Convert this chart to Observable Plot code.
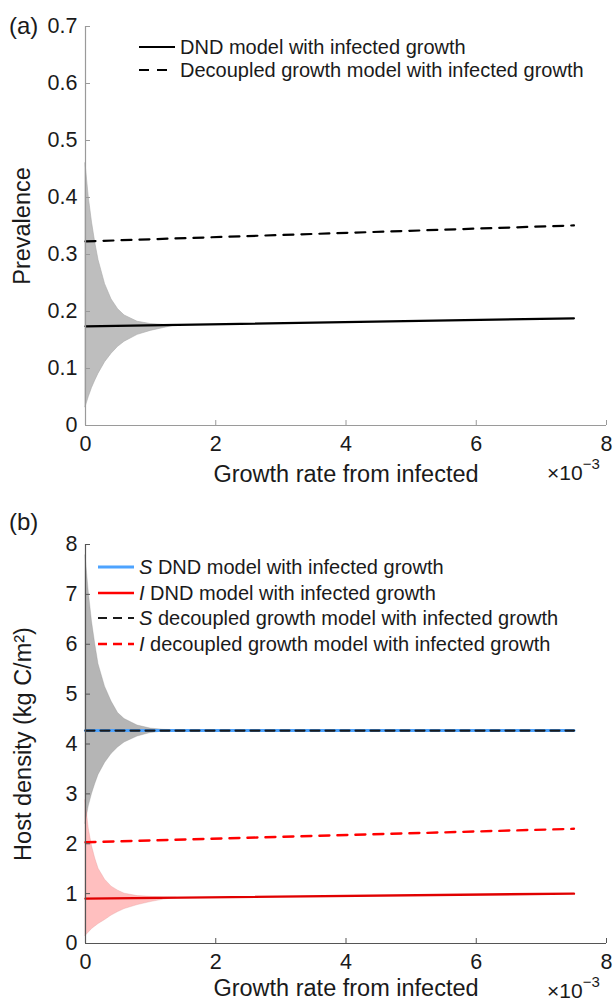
<!DOCTYPE html>
<html>
<head>
<meta charset="utf-8">
<script src="https://cdn.jsdelivr.net/npm/d3@7"></script>
<script src="https://cdn.jsdelivr.net/npm/@observablehq/plot@0.6"></script>
<style>
  html, body { margin: 0; padding: 0; background: #fff; }
  #wrap { position: relative; width: 613px; height: 1003px; font-family: "Liberation Sans", Arial, Helvetica, sans-serif; color: #1a1a1a; }
  #wrap svg { font-family: "Liberation Sans", Arial, Helvetica, sans-serif; }
  .abs { position: absolute; white-space: nowrap; }
  .panel { position: absolute; left: 0; }
  .legend-row { position: absolute; display: flex; align-items: center; font-size: 20px; line-height: 22px; white-space: nowrap; }
  .legend-row svg { margin-right: 5px; }
  .tag { font-size: 24px; line-height: 26px; }
  .exp { font-size: 21px; line-height: 24px; }
  .exp sup { font-size: 15px; position: relative; top: -3px; vertical-align: super; line-height: 0; }
</style>
</head>
<body>
<div id="wrap"></div>
<script>
// ---------- data ----------
// panel (a) prevalence
const bandRates = [0, 0.05, 0.1, 0.15, 0.2, 0.3, 0.4, 0.5, 0.6, 0.8, 1.0, 1.2, 1.4];
const prevUpper = [0.46, 0.40, 0.356, 0.32, 0.29, 0.248, 0.221, 0.204, 0.193, 0.182, 0.178, 0.1765, 0.1765];
const prevLower = [0.032, 0.05, 0.066, 0.079, 0.091, 0.111, 0.126, 0.138, 0.147, 0.159, 0.166, 0.171, 0.176];
const lineRates = [0, 7.5];
const prevDND = [0.174, 0.188];
const prevDecoupled = [0.323, 0.351];

// panel (b) host density
const sUpper = [7.78, 7.05, 6.45, 6.0, 5.6, 5.15, 4.85, 4.62, 4.5, 4.37, 4.31, 4.285, 4.275];
const sLower = [2.4, 2.75, 3.0, 3.2, 3.38, 3.62, 3.8, 3.93, 4.03, 4.15, 4.22, 4.25, 4.265];
const iUpper = [2.87, 2.3, 1.95, 1.7, 1.5, 1.28, 1.14, 1.06, 1.0, 0.95, 0.935, 0.925, 0.92];
const iLower = [0.15, 0.22, 0.29, 0.34, 0.39, 0.47, 0.56, 0.63, 0.69, 0.77, 0.83, 0.88, 0.912];
const sDND = [4.27, 4.27];
const sDecoupled = [4.27, 4.27];
const iDND = [0.9, 1.0];
const iDecoupled = [2.03, 2.3];

// ticks and labels
const xTicks = [0, 2, 4, 6, 8];
const yTicksA = [0, 0.1, 0.2, 0.3, 0.4, 0.5, 0.6, 0.7];
const yTicksB = [0, 1, 2, 3, 4, 5, 6, 7, 8];
const xLabel = "Growth rate from infected";
const yLabelA = "Prevalence";
const yLabelB = "Host density (kg C/m²)";
const legendA = ["DND model with infected growth", "Decoupled growth model with infected growth"];
const legendB = [["S", " DND model with infected growth"], ["I", " DND model with infected growth"],
                 ["S", " decoupled growth model with infected growth"], ["I", " decoupled growth model with infected growth"]];

// ---------- helpers ----------
const zip = (xs, ys) => xs.map((x, i) => ({x, y: ys[i]}));
const band = (xs, lo, hi) => xs.map((x, i) => ({x, lo: lo[i], hi: hi[i]}));
const FONT = `"Liberation Sans", Arial, Helvetica, sans-serif`;
const W = 613;

function frameMarks(yTicks, axisColor, plotW, plotH, yLabel, yFmt, yLabOff, xLabOff) {
  return [
    Plot.ruleX([0], {stroke: axisColor, strokeWidth: 1.2}),
    Plot.ruleY([0], {stroke: axisColor, strokeWidth: 1.2}),
    Plot.tickY(yTicks, {y: d => d, stroke: axisColor, insetRight: plotW - 5}),
    Plot.tickX(xTicks, {x: d => d, stroke: axisColor, insetTop: plotH - 5}),
    Plot.axisY(yTicks, {tickSize: 0, tickPadding: 8, fontSize: 21.5, tickFormat: yFmt, label: null, fill: "#1a1a1a"}),
    Plot.axisX(xTicks, {tickSize: 0, tickPadding: 10, fontSize: 21.5, label: null, fill: "#1a1a1a"}),
    Plot.axisY({ticks: [], tickSize: 0, label: yLabel, labelAnchor: "center", labelOffset: yLabOff, fontSize: 23.5, labelArrow: "none", fill: "#1a1a1a"}),
    Plot.axisX({ticks: [], tickSize: 0, label: xLabel, labelAnchor: "center", labelOffset: xLabOff, fontSize: 23.5, labelArrow: "none", fill: "#1a1a1a"})
  ];
}

const wrap = document.getElementById("wrap");

// ---------- panel (a) ----------
const plotA = Plot.plot({
  width: W, height: 500,
  marginLeft: 85, marginRight: 7, marginTop: 26, marginBottom: 75,
  x: {domain: [0, 8]},
  y: {domain: [0, 0.7]},
  style: {fontFamily: FONT, background: "transparent", overflow: "visible"},
  marks: [
    Plot.areaY(band(bandRates, prevLower, prevUpper), {x: "x", y1: "lo", y2: "hi", fill: "#bebebe", stroke: "#aaaaaa", strokeWidth: 0.6}),
    Plot.line(zip(lineRates, prevDND), {x: "x", y: "y", stroke: "#000", strokeWidth: 2.2}),
    Plot.line(zip(lineRates, prevDecoupled), {x: "x", y: "y", stroke: "#000", strokeWidth: 2.2, strokeDasharray: "10,8"}),
    ...frameMarks(yTicksA, "#9a9a9a", 521, 399, yLabelA, d => d === 0 ? "0" : d.toFixed(1), 72, 56)
  ]
});
plotA.classList.add("panel");
plotA.style.top = "0px";
wrap.appendChild(plotA);

// ---------- panel (b) ----------
const plotB = Plot.plot({
  width: W, height: 503,
  marginLeft: 85, marginRight: 7, marginTop: 44, marginBottom: 60,
  x: {domain: [0, 8]},
  y: {domain: [0, 8]},
  style: {fontFamily: FONT, background: "transparent", overflow: "visible"},
  marks: [
    Plot.areaY(band(bandRates, sLower, sUpper), {x: "x", y1: "lo", y2: "hi", fill: "#000", fillOpacity: 0.29, stroke: "#888", strokeOpacity: 0.5, strokeWidth: 0.6}),
    Plot.areaY(band(bandRates, iLower, iUpper), {x: "x", y1: "lo", y2: "hi", fill: "#ff0000", fillOpacity: 0.25, stroke: "#d88", strokeOpacity: 0.5, strokeWidth: 0.6}),
    Plot.line(zip(lineRates, sDND), {x: "x", y: "y", stroke: "#4da3ff", strokeWidth: 3}),
    Plot.line(zip(lineRates, iDND), {x: "x", y: "y", stroke: "#e00000", strokeWidth: 2.4}),
    Plot.line(zip(lineRates, sDecoupled), {x: "x", y: "y", stroke: "#1a1a1a", strokeWidth: 2.2, strokeDasharray: "9,6"}),
    Plot.line(zip(lineRates, iDecoupled), {x: "x", y: "y", stroke: "#ff0000", strokeWidth: 2.4, strokeDasharray: "10,8"}),
    ...frameMarks(yTicksB, "#555555", 521, 399, yLabelB, d => String(d), 71, 52)
  ]
});
plotB.classList.add("panel");
plotB.style.top = "500px";
wrap.appendChild(plotB);

// ---------- overlays: panel tags, exponent, legends ----------
function addText(html, cls, left, top) {
  const d = document.createElement("div");
  d.className = "abs " + cls;
  d.style.left = left + "px";
  d.style.top = top + "px";
  d.innerHTML = html;
  wrap.appendChild(d);
  return d;
}
addText("(a)", "tag", 9, 13);
addText("(b)", "tag", 9, 509);
addText("×10<sup>−3</sup>", "exp", 547, 461);
addText("×10<sup>−3</sup>", "exp", 547, 979);

function swatch(color, dash, width) {
  return `<svg width="36" height="6"><line x1="0" y1="3" x2="36" y2="3" stroke="${color}" stroke-width="${width}" ${dash ? `stroke-dasharray="${dash}"` : ""}/></svg>`;
}
const legendAStyles = [["#000", null, 2.2], ["#000", "10,8", 2.2]];
legendA.forEach((t, i) => {
  addText(swatch(...legendAStyles[i]) + `<span>${t}</span>`, "legend-row", 139, 36 + i * 23);
});
const legendBStyles = [["#4da3ff", null, 3], ["#ff0000", null, 2.4], ["#1a1a1a", "9,6", 2.2], ["#ff0000", "9,6", 2.4]];
legendB.forEach((t, i) => {
  addText(swatch(...legendBStyles[i]) + `<span><i>${t[0]}</i>${t[1]}</span>`, "legend-row", 98, 556 + i * 25.5);
});
</script>
</body>
</html>
